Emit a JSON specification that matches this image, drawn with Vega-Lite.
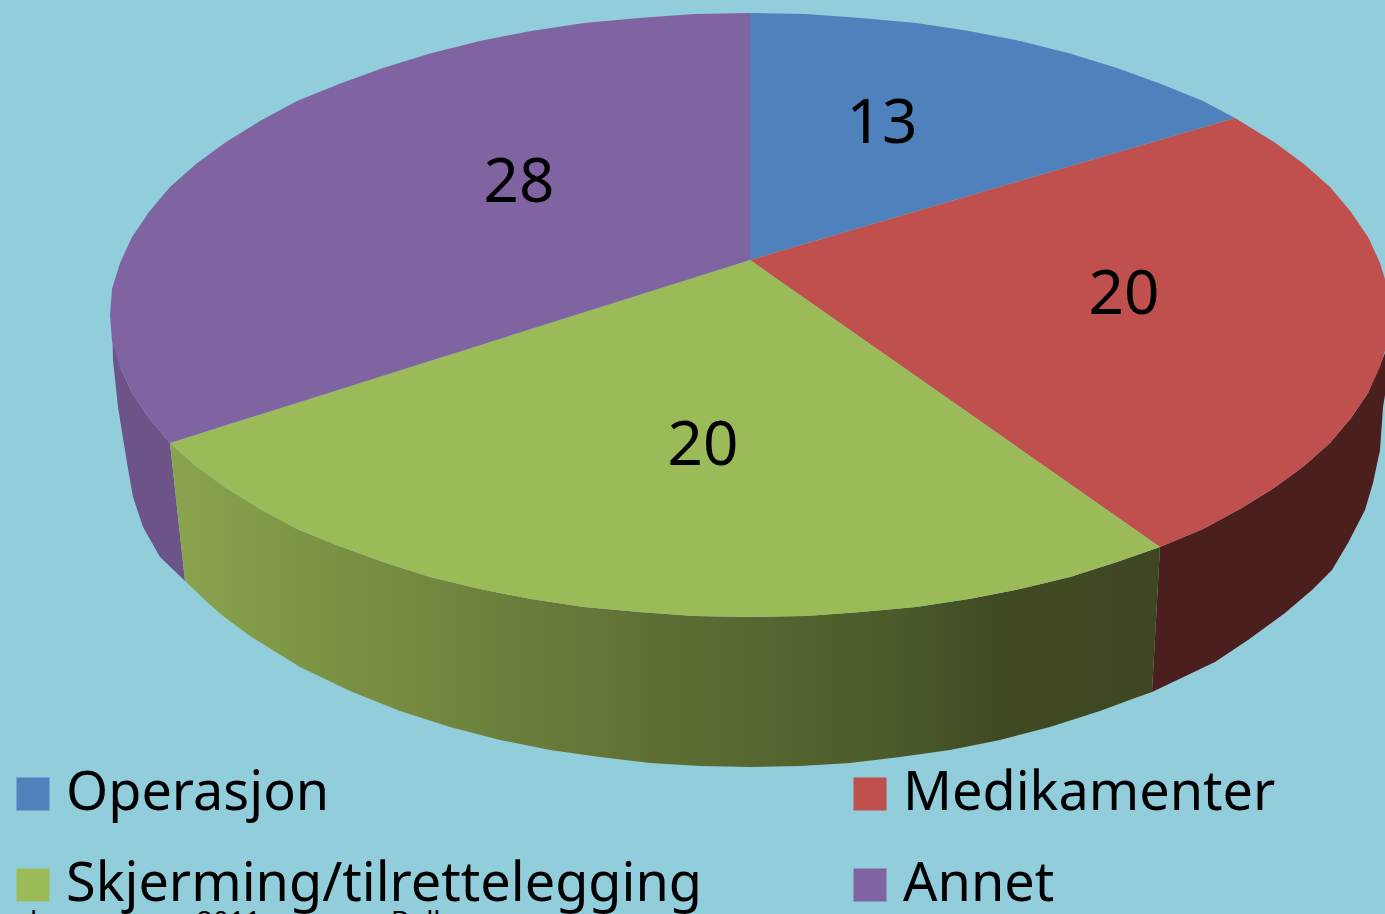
{"$schema":"https://vega.github.io/schema/vega-lite/v6.json","width":1385,"height":914,"padding":0,"autosize":"none","background":"#92CDDC","config":{"view":{"stroke":null},"font":"Noto Sans"},"layer":[
{"data":{"values":[{"i":1,"x":112,"y":315},{"i":2,"x":113,"y":360},{"i":3,"x":118,"y":407},{"i":4,"x":127,"y":463},{"i":5,"x":133,"y":497},{"i":6,"x":143,"y":527},{"i":7,"x":160,"y":557},{"i":8,"x":185,"y":581},{"i":9,"x":170,"y":443},{"i":10,"x":149,"y":418},{"i":11,"x":132,"y":393},{"i":12,"x":120,"y":367}]},"mark":{"type":"line","fill":"#6C5488","stroke":null},"encoding":{"x":{"field":"x","type":"quantitative","scale":{"domain":[0,1385]},"axis":null},"y":{"field":"y","type":"quantitative","scale":{"domain":[914,0]},"axis":null},"order":{"field":"i"}}},
{"data":{"values":[{"i":1,"x":1160,"y":547},{"i":2,"x":1203,"y":529},{"i":3,"x":1240,"y":509},{"i":4,"x":1274,"y":488},{"i":5,"x":1304,"y":466},{"i":6,"x":1330,"y":443},{"i":7,"x":1351,"y":418},{"i":8,"x":1368,"y":393},{"i":9,"x":1385,"y":353},{"i":10,"x":1385,"y":395},{"i":11,"x":1383,"y":407},{"i":12,"x":1380,"y":450},{"i":13,"x":1373,"y":483},{"i":14,"x":1365,"y":510},{"i":15,"x":1348,"y":543},{"i":16,"x":1332,"y":570},{"i":17,"x":1312,"y":590},{"i":18,"x":1285,"y":613},{"i":19,"x":1248,"y":640},{"i":20,"x":1215,"y":662},{"i":21,"x":1152,"y":692}]},"mark":{"type":"line","fill":"#4C1F1F","stroke":null},"encoding":{"x":{"field":"x","type":"quantitative","scale":{"domain":[0,1385]},"axis":null},"y":{"field":"y","type":"quantitative","scale":{"domain":[914,0]},"axis":null},"order":{"field":"i"}}},
{"data":{"values":[{"i":1,"x":170,"y":443},{"i":2,"x":196,"y":466},{"i":3,"x":226,"y":488},{"i":4,"x":260,"y":509},{"i":5,"x":297,"y":529},{"i":6,"x":339,"y":546},{"i":7,"x":383,"y":562},{"i":8,"x":430,"y":577},{"i":9,"x":480,"y":589},{"i":10,"x":531,"y":599},{"i":11,"x":584,"y":607},{"i":12,"x":639,"y":612},{"i":13,"x":694,"y":616},{"i":14,"x":750,"y":617},{"i":15,"x":806,"y":616},{"i":16,"x":861,"y":612},{"i":17,"x":916,"y":607},{"i":18,"x":969,"y":599},{"i":19,"x":1020,"y":589},{"i":20,"x":1070,"y":577},{"i":21,"x":1117,"y":562},{"i":22,"x":1160,"y":547},{"i":23,"x":1152,"y":692},{"i":24,"x":1135,"y":698},{"i":25,"x":1100,"y":711},{"i":26,"x":1050,"y":727},{"i":27,"x":1000,"y":740},{"i":28,"x":950,"y":750},{"i":29,"x":900,"y":757},{"i":30,"x":850,"y":763},{"i":31,"x":800,"y":766},{"i":32,"x":750,"y":767},{"i":33,"x":700,"y":766},{"i":34,"x":650,"y":763},{"i":35,"x":600,"y":757},{"i":36,"x":550,"y":750},{"i":37,"x":500,"y":740},{"i":38,"x":450,"y":727},{"i":39,"x":400,"y":711},{"i":40,"x":350,"y":691},{"i":41,"x":300,"y":667},{"i":42,"x":250,"y":636},{"i":43,"x":223,"y":616},{"i":44,"x":207,"y":602},{"i":45,"x":185,"y":581}]},"mark":{"type":"line","stroke":null,"fill":{"gradient":"linear","x1":0,"y1":0,"x2":1,"y2":0,"stops":[{"offset":0,"color":"#8AA44E"},{"offset":0.13,"color":"#7D9645"},{"offset":0.485,"color":"#5F7035"},{"offset":0.737,"color":"#4A5A2A"},{"offset":0.84,"color":"#3F4A22"},{"offset":1,"color":"#3E4722"}]}},"encoding":{"x":{"field":"x","type":"quantitative","scale":{"domain":[0,1385]},"axis":null},"y":{"field":"y","type":"quantitative","scale":{"domain":[914,0]},"axis":null},"order":{"field":"i"}}},
{"data":{"values":[
{"category":"Operasjon","i":1,"x":750,"y":260},{"category":"Operasjon","i":2,"x":750,"y":13},{"category":"Operasjon","i":3,"x":806,"y":14},{"category":"Operasjon","i":4,"x":861,"y":18},{"category":"Operasjon","i":5,"x":916,"y":23},{"category":"Operasjon","i":6,"x":969,"y":31},{"category":"Operasjon","i":7,"x":1020,"y":41},{"category":"Operasjon","i":8,"x":1070,"y":53.5},{"category":"Operasjon","i":9,"x":1117,"y":68},{"category":"Operasjon","i":10,"x":1161,"y":84},{"category":"Operasjon","i":11,"x":1203,"y":101},{"category":"Operasjon","i":12,"x":1235,"y":118},
{"category":"Medikamenter","i":1,"x":750,"y":260},{"category":"Medikamenter","i":2,"x":1235,"y":118},{"category":"Medikamenter","i":3,"x":1274,"y":142},{"category":"Medikamenter","i":4,"x":1304,"y":164},{"category":"Medikamenter","i":5,"x":1330,"y":187},{"category":"Medikamenter","i":6,"x":1351,"y":212},{"category":"Medikamenter","i":7,"x":1368,"y":237},{"category":"Medikamenter","i":8,"x":1380,"y":263},{"category":"Medikamenter","i":9,"x":1388,"y":289},{"category":"Medikamenter","i":10,"x":1390,"y":315},{"category":"Medikamenter","i":11,"x":1388,"y":341},{"category":"Medikamenter","i":12,"x":1380,"y":367},{"category":"Medikamenter","i":13,"x":1368,"y":393},{"category":"Medikamenter","i":14,"x":1351,"y":418},{"category":"Medikamenter","i":15,"x":1330,"y":443},{"category":"Medikamenter","i":16,"x":1304,"y":466},{"category":"Medikamenter","i":17,"x":1274,"y":488},{"category":"Medikamenter","i":18,"x":1240,"y":509},{"category":"Medikamenter","i":19,"x":1203,"y":529},{"category":"Medikamenter","i":20,"x":1160,"y":547},
{"category":"Skjerming/tilrettelegging","i":1,"x":750,"y":260},{"category":"Skjerming/tilrettelegging","i":2,"x":1160,"y":547},{"category":"Skjerming/tilrettelegging","i":3,"x":1117,"y":562},{"category":"Skjerming/tilrettelegging","i":4,"x":1070,"y":577},{"category":"Skjerming/tilrettelegging","i":5,"x":1020,"y":589},{"category":"Skjerming/tilrettelegging","i":6,"x":969,"y":599},{"category":"Skjerming/tilrettelegging","i":7,"x":916,"y":607},{"category":"Skjerming/tilrettelegging","i":8,"x":861,"y":612},{"category":"Skjerming/tilrettelegging","i":9,"x":806,"y":616},{"category":"Skjerming/tilrettelegging","i":10,"x":750,"y":617},{"category":"Skjerming/tilrettelegging","i":11,"x":694,"y":616},{"category":"Skjerming/tilrettelegging","i":12,"x":639,"y":612},{"category":"Skjerming/tilrettelegging","i":13,"x":584,"y":607},{"category":"Skjerming/tilrettelegging","i":14,"x":531,"y":599},{"category":"Skjerming/tilrettelegging","i":15,"x":480,"y":589},{"category":"Skjerming/tilrettelegging","i":16,"x":430,"y":577},{"category":"Skjerming/tilrettelegging","i":17,"x":383,"y":562},{"category":"Skjerming/tilrettelegging","i":18,"x":339,"y":546},{"category":"Skjerming/tilrettelegging","i":19,"x":297,"y":529},{"category":"Skjerming/tilrettelegging","i":20,"x":260,"y":509},{"category":"Skjerming/tilrettelegging","i":21,"x":226,"y":488},{"category":"Skjerming/tilrettelegging","i":22,"x":196,"y":466},{"category":"Skjerming/tilrettelegging","i":23,"x":170,"y":443},
{"category":"Annet","i":1,"x":750,"y":260},{"category":"Annet","i":2,"x":170,"y":443},{"category":"Annet","i":3,"x":149,"y":418},{"category":"Annet","i":4,"x":132,"y":393},{"category":"Annet","i":5,"x":120,"y":367},{"category":"Annet","i":6,"x":112,"y":341},{"category":"Annet","i":7,"x":110,"y":315},{"category":"Annet","i":8,"x":112,"y":289},{"category":"Annet","i":9,"x":120,"y":263},{"category":"Annet","i":10,"x":132,"y":237},{"category":"Annet","i":11,"x":149,"y":212},{"category":"Annet","i":12,"x":170,"y":187},{"category":"Annet","i":13,"x":196,"y":164},{"category":"Annet","i":14,"x":226,"y":142},{"category":"Annet","i":15,"x":260,"y":121},{"category":"Annet","i":16,"x":297,"y":101},{"category":"Annet","i":17,"x":339,"y":84},{"category":"Annet","i":18,"x":383,"y":68},{"category":"Annet","i":19,"x":430,"y":53.5},{"category":"Annet","i":20,"x":480,"y":41},{"category":"Annet","i":21,"x":531,"y":31},{"category":"Annet","i":22,"x":584,"y":23},{"category":"Annet","i":23,"x":639,"y":18},{"category":"Annet","i":24,"x":694,"y":14},{"category":"Annet","i":25,"x":750,"y":13}
]},"mark":{"type":"line","stroke":null},"encoding":{"x":{"field":"x","type":"quantitative","scale":{"domain":[0,1385]},"axis":null},"y":{"field":"y","type":"quantitative","scale":{"domain":[914,0]},"axis":null},"order":{"field":"i"},"detail":{"field":"category"},"fill":{"field":"category","type":"nominal","scale":{"domain":["Operasjon","Medikamenter","Skjerming/tilrettelegging","Annet"],"range":["#4F81BD","#C0504D","#9BBB59","#8064A2"]},"legend":{"title":null,"orient":"none","legendX":6,"legendY":767,"columns":2,"direction":"horizontal","symbolType":"square","symbolSize":1089,"symbolStrokeWidth":0,"symbolOpacity":1,"labelFontSize":54,"labelFont":"Noto Sans","labelColor":"#000000","labelLimit":900,"labelOffset":6,"columnPadding":140,"rowPadding":37,"padding":0,"offset":0,"symbolBaseFillColor":"transparent","symbolBaseStrokeColor":"transparent"}}}},
{"data":{"values":[{"value":13,"x":882,"y":124},{"value":20,"x":1124,"y":295},{"value":20,"x":703,"y":446},{"value":28,"x":519,"y":183}]},"mark":{"type":"text","fontSize":62,"font":"Noto Sans","color":"#000000","align":"center","baseline":"middle"},"encoding":{"x":{"field":"x","type":"quantitative","scale":{"domain":[0,1385]},"axis":null},"y":{"field":"y","type":"quantitative","scale":{"domain":[914,0]},"axis":null},"text":{"field":"value","type":"quantitative"}}},
{"data":{"values":[{"t":"l","x":30,"y":931},{"t":"2011","x":197,"y":931},{"t":"Bolk","x":391,"y":931}]},"mark":{"type":"text","fontSize":28,"font":"Noto Sans","color":"#000000","align":"left","baseline":"alphabetic"},"encoding":{"x":{"field":"x","type":"quantitative","scale":{"domain":[0,1385]},"axis":null},"y":{"field":"y","type":"quantitative","scale":{"domain":[914,0]},"axis":null},"text":{"field":"t","type":"nominal"}}}
]}
